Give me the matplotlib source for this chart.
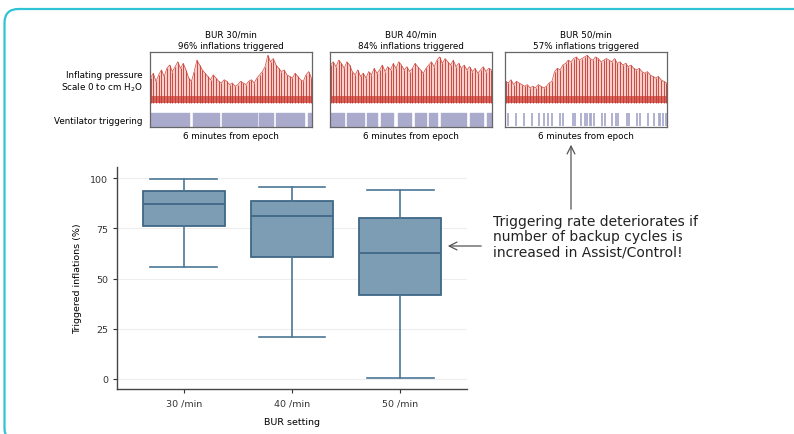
import numpy as np
import matplotlib.pyplot as plt
from matplotlib.patches import FancyBboxPatch

# ---- data ----
settings = ["30 /min", "40 /min", "50 /min"]
whislo = [55.6, 20.7, 0.3]
q1 = [76.1, 60.8, 41.6]
med = [86.9, 80.9, 62.7]
q3 = [93.4, 88.7, 80.2]
whishi = [99.5, 95.5, 94.0]

panel_titles = ["BUR 30/min\n96% inflations triggered",
                "BUR 40/min\n84% inflations triggered",
                "BUR 50/min\n57% inflations triggered"]

# peak inflating pressure (arbitrary scale) over the 6 minute epoch
peaks_30 = [14, 17, 12, 16, 19, 15, 20, 22, 18, 21, 24, 20, 23, 19, 14, 12, 18, 25, 22, 19,
            17, 15, 13, 16, 14, 12, 11, 13, 12, 10, 11, 9, 10, 12, 11, 10, 12, 13, 11, 14,
            16, 18, 21, 28, 24, 26, 22, 20, 18, 19, 16, 15, 14, 17, 15, 13, 12, 16, 18, 14]
peaks_40 = [22, 24, 21, 25, 23, 20, 24, 22, 18, 16, 19, 15, 17, 14, 18, 16, 20, 17, 19, 22,
            18, 21, 19, 23, 20, 24, 22, 19, 21, 18, 20, 23, 21, 19, 17, 20, 22, 24, 21, 25,
            27, 23, 26, 24, 22, 25, 21, 23, 20, 22, 19, 21, 18, 20, 17, 19, 21, 18, 20, 19]
peaks_50 = [12, 11, 13, 10, 12, 11, 10, 9, 10, 8, 9, 8, 10, 9, 8, 9, 11, 12, 18, 20,
            19, 22, 23, 25, 24, 26, 27, 25, 26, 27, 28, 26, 25, 27, 26, 24, 25, 26, 25, 24,
            26, 23, 24, 22, 23, 21, 22, 20, 19, 20, 18, 17, 18, 16, 15, 14, 15, 13, 12, 11]

# triggered stretches (minutes)
trig_30 = [(0, 1.45), (1.6, 2.55), (2.65, 3.95), (4.05, 4.55), (4.65, 5.7), (5.85, 6)]
trig_40 = [(0, 0.5), (0.62, 1.25), (1.38, 1.75), (1.88, 2.35), (2.5, 3.0), (3.15, 3.55),
           (3.68, 3.95), (4.1, 5.05), (5.2, 5.65), (5.8, 6)]
trig_50 = [0.1, 0.4, 0.7, 1.0, 1.25, 1.45, 1.6, 1.75, 2.05, 2.15, 2.5, 2.6, 2.8, 2.95, 3.05,
           3.15, 3.2, 3.3, 3.6, 3.7, 3.95, 4.1, 4.2, 4.5, 4.6, 4.9, 5.0, 5.3, 5.5, 5.7,
           5.75, 5.85, 5.95]

fig = plt.figure(figsize=(7.94, 4.35), dpi=100)

# teal rounded frame
frame = FancyBboxPatch((0.045, -0.08), 8.2, 4.33, boxstyle="round,pad=0,rounding_size=0.14",
                       transform=fig.dpi_scale_trans, fill=False, ec="#2fc3d3", lw=1.6)
fig.patches.append(frame)

lav = "#aaaacd"
red = "#c8332b"
fs = 6.3

panels = [(150, peaks_30, trig_30), (330, peaks_40, trig_40), (505, peaks_50, trig_50)]
for i, (px, peaks, trig) in enumerate(panels):
    ax = fig.add_axes([px / 794, 1 - 128 / 435, 162 / 794, 75 / 435])
    ax.set_xlim(0, 6)
    ax.set_ylim(-16, 30)
    t = np.linspace(0.02, 5.98, len(peaks))
    ax.fill_between(t, -1, peaks, color="#e8938a", alpha=0.45, lw=0)
    ax.vlines(t, -1, peaks, color=red, lw=0.6)
    ax.plot(t, peaks, color="#d04a40", lw=0.5)
    ax.axhspan(-1.2, 3, color="#c8372e", alpha=0.7, lw=0)
    if i < 2:
        ax.broken_barh([(a, b - a) for a, b in trig], (-15.6, 8.2), color=lav)
    else:
        ax.vlines(trig, -15.6, -7.4, color=lav, lw=1.3)
    ax.set_xticks([])
    ax.set_yticks([])
    for s in ax.spines.values():
        s.set_color("#666666")
        s.set_linewidth(0.9)
    ax.set_title(panel_titles[i], fontsize=fs, pad=3, linespacing=1.3)
    ax.set_xlabel("6 minutes from epoch", fontsize=fs, labelpad=3)

fig.text(143 / 794, 1 - 76 / 435, "Inflating pressure", ha="right", va="center", fontsize=fs)
fig.text(143 / 794, 1 - 88 / 435, "Scale 0 to cm H$_2$O", ha="right", va="center", fontsize=fs)
fig.text(143 / 794, 1 - 121 / 435, "Ventilator triggering", ha="right", va="center", fontsize=fs)

# box plot
ax = fig.add_axes([117 / 794, 1 - 390 / 435, 350 / 794, 222 / 435])
stats = [dict(whislo=whislo[i], q1=q1[i], med=med[i], q3=q3[i], whishi=whishi[i], label=settings[i])
         for i in range(3)]
edge = "#3f6887"
ax.bxp(stats, positions=[1, 2, 3], widths=0.76, capwidths=0.62, showfliers=False,
       patch_artist=True,
       boxprops=dict(facecolor="#7d9db5", edgecolor=edge, lw=1.3),
       medianprops=dict(color=edge, lw=1.3),
       whiskerprops=dict(color="#4d7796", lw=1.2),
       capprops=dict(color="#4d7796", lw=1.2))
ax.set_xlim(0.38, 3.62)
ax.set_ylim(-5, 105.5)
ax.set_yticks([0, 25, 50, 75, 100])
ax.yaxis.grid(True, color="#eeeeee", lw=0.8)
ax.set_axisbelow(True)
for s in ["top", "right"]:
    ax.spines[s].set_visible(False)
for s in ["left", "bottom"]:
    ax.spines[s].set_color("#444444")
    ax.spines[s].set_linewidth(1.0)
ax.tick_params(labelsize=6.8, colors="#333333", length=3)
ax.set_ylabel("Triggered inflations (%)", fontsize=6.8, labelpad=6)
ax.set_xlabel("BUR setting", fontsize=6.8, labelpad=7)

# annotation
fig.text(493 / 794, 1 - 237 / 435,
         "Triggering rate deteriorates if\nnumber of backup cycles is\nincreased in Assist/Control!",
         ha="left", va="center", fontsize=10, linespacing=1.1, color="#222222")
fig.add_artist(plt.Annotation("", xy=(445 / 794, 1 - 247 / 435), xytext=(484 / 794, 1 - 247 / 435),
                              xycoords="figure fraction",
                              arrowprops=dict(arrowstyle="->", color="#555555", lw=0.9,
                                              mutation_scale=14)))
fig.add_artist(plt.Annotation("", xy=(571 / 794, 1 - 143 / 435), xytext=(571 / 794, 1 - 213 / 435),
                              xycoords="figure fraction",
                              arrowprops=dict(arrowstyle="->", color="#555555", lw=0.9,
                                              mutation_scale=14)))

fig.savefig("out.png", dpi=100)
